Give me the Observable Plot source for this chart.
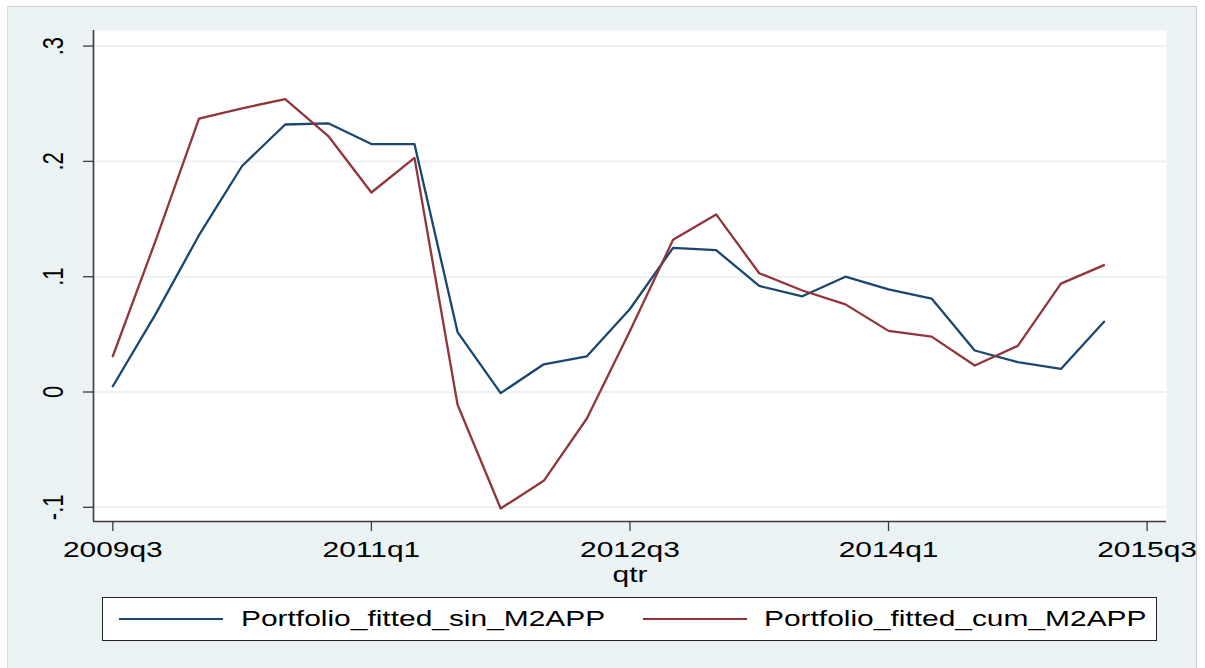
<!DOCTYPE html>
<html><head><meta charset="utf-8">
<script src="https://cdn.jsdelivr.net/npm/d3@7"></script>
<script src="https://cdn.jsdelivr.net/npm/@observablehq/plot@0.6"></script>
<style>
body{margin:0;background:#fff;}
#wrap{position:relative;width:1205px;height:668px;overflow:hidden;font-family:"Liberation Sans",Arial,sans-serif;}
#bg{position:absolute;left:7px;top:6px;width:1190px;height:662px;background:#eaf2f3;border-top:1px solid #c8cccc;border-left:1px solid #d6dcdd;border-right:1px solid #c8cccc;box-sizing:border-box;}
#chart{position:absolute;left:0;top:0;}
#legend{position:absolute;left:102px;top:597px;width:1055px;height:44px;background:#fff;border:1px solid #222;box-sizing:border-box;}
.sw{position:absolute;top:20px;height:2.4px;width:104px;}
.lt{position:absolute;top:0;line-height:42px;font-size:22px;transform:scaleX(1.36);transform-origin:0 50%;white-space:nowrap;color:#000;}
</style>
</head><body>
<div id="wrap">
  <div id="bg"></div>
  <div id="chart"></div>
  <div id="legend">
    <div class="sw" style="left:16px;background:#1a476f"></div>
    <div class="lt" style="left:138px">Portfolio_fitted_sin_M2APP</div>
    <div class="sw" style="left:540px;background:#90353b"></div>
    <div class="lt" style="left:661px">Portfolio_fitted_cum_M2APP</div>
  </div>
</div>
<script>
const quarters = ["2009q3","2009q4","2010q1","2010q2","2010q3","2010q4","2011q1","2011q2","2011q3","2011q4","2012q1","2012q2","2012q3","2012q4","2013q1","2013q2","2013q3","2013q4","2014q1","2014q2","2014q3","2014q4","2015q1","2015q2"];
const sinValues = [0.005,0.068,0.136,0.196,0.232,0.233,0.215,0.215,0.052,-0.001,0.024,0.031,0.072,0.125,0.123,0.092,0.083,0.100,0.089,0.081,0.036,0.026,0.020,0.061];
const cumValues = [0.031,0.132,0.237,0.246,0.254,0.222,0.173,0.203,-0.011,-0.101,-0.077,-0.023,0.053,0.132,0.154,0.103,0.088,0.076,0.053,0.048,0.023,0.040,0.094,0.110];
const xTickLabels = ["2009q3","2011q1","2012q3","2014q1","2015q3"];
const yTicks = [-0.1,0,0.1,0.2,0.3];

const qIndex = s => (+s.slice(0,4) - 2009) * 4 + (+s.slice(5) - 3);
const sinData = quarters.map((q,i)=>({i:qIndex(q), v:sinValues[i]}));
const cumData = quarters.map((q,i)=>({i:qIndex(q), v:cumValues[i]}));
const xTicks = xTickLabels.map(qIndex);
const fmtY = d => d === 0 ? "0" : d.toFixed(1).replace("0.", ".");
const xDom = [-0.448, 24.45], yDom = [-0.1123, 0.3135];

const chart = Plot.plot({
  width:1205, height:590,
  marginLeft:93, marginRight:39, marginTop:30, marginBottom:69,
  style:{background:"transparent", fontFamily:"Liberation Sans, Arial, sans-serif", fontSize:"22px", color:"#000"},
  x:{domain:xDom},
  y:{domain:yDom},
  marks:[
    Plot.frame({fill:"white", stroke:null}),
    Plot.gridY(yTicks, {stroke:"#eaf2f3", strokeOpacity:1, strokeWidth:2}),
    Plot.ruleX([xDom[0]], {stroke:"#3a3a3a", strokeWidth:1.6}),
    Plot.ruleY([yDom[0]], {stroke:"#3a3a3a", strokeWidth:1.6}),
    Plot.axisY(yTicks, {tickSize:10, tickFormat:()=>"", stroke:"#3a3a3a", strokeWidth:1.3, label:null}),
    Plot.text(yTicks, {y:d=>d, text:fmtY, frameAnchor:"left", dx:-40, rotate:-90, textAnchor:"middle", lineAnchor:"middle", fontSize:22, fill:"#000"}),
    Plot.axisX(xTicks, {tickSize:10, tickPadding:10, stroke:"#3a3a3a", strokeWidth:1.3, tickFormat:(d,k)=>xTickLabels[xTicks.indexOf(d)], label:"qtr", labelAnchor:"center", labelOffset:60, labelArrow:"none", fontSize:22}),
    Plot.line(sinData, {x:"i", y:"v", stroke:"#1a476f", strokeWidth:2.3}),
    Plot.line(cumData, {x:"i", y:"v", stroke:"#90353b", strokeWidth:2.3})
  ]
});
document.getElementById("chart").appendChild(chart);
chart.querySelectorAll("text").forEach(t=>{
  const tr = t.getAttribute("transform");
  if (tr && /^translate\(/.test(tr)) {
    t.setAttribute("transform", tr.replace(/^(translate\([^)]*\))/, "$1 scale(1.36,1)"));
  } else {
    const x = +(t.getAttribute("x")||0), y = +(t.getAttribute("y")||0);
    t.setAttribute("transform", `translate(${x},${y}) scale(1.36,1) translate(${-x},${-y})` + (tr? " "+tr : ""));
  }
});
</script>
</body></html>
